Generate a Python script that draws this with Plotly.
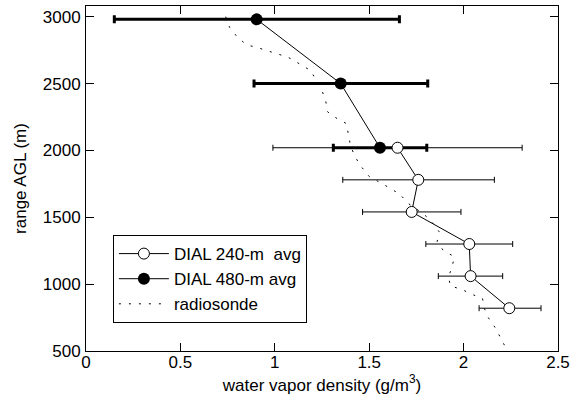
import plotly.graph_objects as go

# DIAL 240-m average (open circles)
dial240_x = [1.65, 1.76, 1.725, 2.03, 2.037, 2.242]
dial240_y = [2020, 1780, 1540, 1300, 1060, 820]
dial240_lo = [0.99, 1.36, 1.465, 1.80, 1.866, 2.082]
dial240_hi = [2.31, 2.163, 1.986, 2.26, 2.207, 2.41]

# DIAL 480-m average (filled circles)
dial480_x = [0.904, 1.349, 1.557]
dial480_y = [2980, 2500, 2020]
dial480_lo = [0.15, 0.89, 1.31]
dial480_hi = [1.66, 1.81, 1.805]

# radiosonde profile
sonde_x = [0.74, 0.76, 0.80, 0.85, 0.91, 0.97, 1.02, 1.07, 1.13, 1.19, 1.22, 1.25,
           1.27, 1.28, 1.33, 1.38, 1.39, 1.40, 1.42, 1.45, 1.50, 1.55, 1.60, 1.66,
           1.71, 1.77, 1.82, 1.87, 1.86, 1.89, 1.95, 1.94, 1.92, 1.93, 1.99, 2.04,
           2.10, 2.11, 2.13, 2.17, 2.20, 2.23]
sonde_y = [3000, 2922, 2850, 2790, 2768, 2742, 2723, 2697, 2648, 2597, 2522, 2448,
           2367, 2288, 2238, 2200, 2118, 2043, 1968, 1893, 1805, 1768, 1726, 1675,
           1600, 1543, 1486, 1393, 1318, 1256, 1205, 1130, 1056, 986, 961, 926,
           894, 819, 751, 669, 586, 506]

x_ticks = [0, 0.5, 1, 1.5, 2, 2.5]
x_ticklabels = ["0", "0.5", "1", "1.5", "2", "2.5"]
y_ticks = [500, 1000, 1500, 2000, 2500, 3000]

FONT = "Liberation Sans, Arial, sans-serif"
FS = 17

fig = go.Figure()

fig.add_trace(go.Scatter(
    x=sonde_x, y=sonde_y, mode="lines", name="radiosonde",
    line=dict(color="black", width=1, dash="2px,8px"),
    legendrank=3,
))

fig.add_trace(go.Scatter(
    x=dial480_x, y=dial480_y, mode="lines+markers", name="DIAL 480-m avg",
    line=dict(color="black", width=1),
    marker=dict(symbol="circle", size=12, color="black"),
    error_x=dict(type="data", symmetric=False,
                 array=[h - x for h, x in zip(dial480_hi, dial480_x)],
                 arrayminus=[x - l for l, x in zip(dial480_lo, dial480_x)],
                 color="black", thickness=3, width=4),
    legendrank=2,
))

fig.add_trace(go.Scatter(
    x=dial240_x, y=dial240_y, mode="lines+markers", name="DIAL 240-m  avg",
    line=dict(color="black", width=1),
    marker=dict(symbol="circle", size=11, color="white",
                line=dict(color="black", width=1)),
    error_x=dict(type="data", symmetric=False,
                 array=[h - x for h, x in zip(dial240_hi, dial240_x)],
                 arrayminus=[x - l for l, x in zip(dial240_lo, dial240_x)],
                 color="black", thickness=1, width=3),
    legendrank=1,
))

axis_common = dict(
    showline=True, linecolor="black", linewidth=1, mirror="ticks",
    ticks="inside", ticklen=8, tickcolor="black", tickwidth=1,
    showgrid=False, zeroline=False, automargin=False,
    tickfont=dict(family=FONT, size=FS, color="black"),
)

fig.update_layout(
    width=572, height=404,
    margin=dict(l=86, r=14, t=6, b=53),
    paper_bgcolor="white", plot_bgcolor="white",
    font=dict(family=FONT, size=FS, color="black"),
    xaxis=dict(range=[0, 2.5], tickvals=x_ticks, ticktext=x_ticklabels,
               ticklabelstandoff=-4,
               title=dict(text="water vapor density (g/m<sup>3</sup>)",
                          font=dict(family=FONT, size=FS), standoff=4),
               **axis_common),
    yaxis=dict(range=[500, 3080], tickvals=y_ticks,
               ticklabelstandoff=1,
               title=dict(text="range AGL (m)",
                          font=dict(family=FONT, size=FS), standoff=11),
               **axis_common),
    legend=dict(x=0.057, y=0.081, xanchor="left", yanchor="bottom",
                bordercolor="black", borderwidth=1, bgcolor="white",
                font=dict(family=FONT, size=FS), tracegroupgap=0,
                itemwidth=50),
    showlegend=True,
)

fig.write_html("out.html",
               config={"displayModeBar": False},
               post_script="document.body.style.margin='0px';document.body.style.padding='0px';")
